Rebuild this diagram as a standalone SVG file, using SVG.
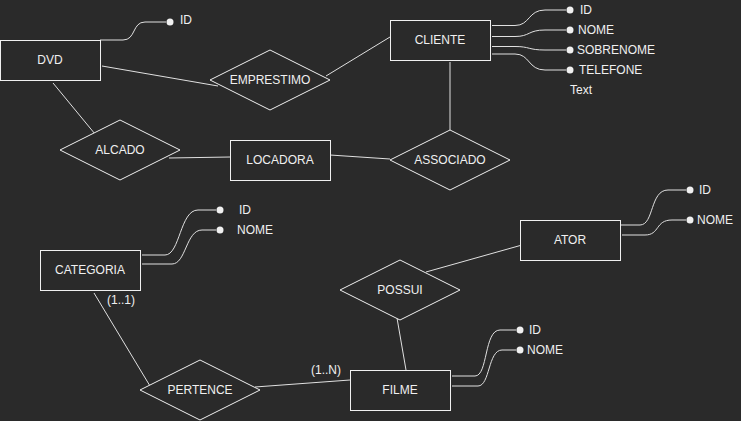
<svg xmlns="http://www.w3.org/2000/svg" width="741" height="421" viewBox="0 0 741 421">
<style>
.bg{fill:#2a2a2a}
.ent{fill:#2a2a2a;stroke:#f0f0f0;stroke-width:1}
.rel{fill:#2a2a2a;stroke:#f0f0f0;stroke-width:1}
.ln{fill:none;stroke:#e0e0e0;stroke-width:1}
.dot{fill:#f0f0f0}
text{font-family:"Liberation Sans",Arial,sans-serif;font-size:12px;fill:#f0f0f0}
.c{text-anchor:middle;dominant-baseline:central}
.l{text-anchor:start;dominant-baseline:central}
</style>
<rect class="bg" x="0" y="0" width="741" height="421"/>
<g id="connectors">
  <path class="ln" d="M102,66 L218,86"/>
  <path class="ln" d="M326,76 L390,37"/>
  <path class="ln" d="M53,83 L95,134"/>
  <path class="ln" d="M169,158 L230,157"/>
  <path class="ln" d="M330,155 L390,159"/>
  <path class="ln" d="M450,62 L450,130"/>
  <path class="ln" d="M426,272 L522,245"/>
  <path class="ln" d="M397,318 L406,370"/>
  <path class="ln" d="M94,293 L150,386"/>
  <path class="ln" d="M255,387 L350,380"/>
  <!-- attribute links -->
  <path class="ln" d="M100,40 L123,40 C136,40 132,22 145,22 L166,22"/>
  <path class="ln" d="M492,25.5 L515,25.5 C530,25.5 528,10 545,10 L566,10"/>
  <path class="ln" d="M492,36.5 L515,36.5 C530,36.5 528,30 545,30 L566,30"/>
  <path class="ln" d="M492,46.5 L515,46.5 C530,46.5 528,50 545,50 L566,50"/>
  <path class="ln" d="M492,54 L515,54 C530,54 528,70 545,70 L566,70"/>
  <path class="ln" d="M142,255 L165,255 C180,255 180,210 198,210 L216,210"/>
  <path class="ln" d="M142,264 L172,264 C186,264 186,230 202,230 L216,230"/>
  <path class="ln" d="M620,225 L640,225 C654,225 650,190 668,190 L686,190"/>
  <path class="ln" d="M622,235 L645,235 C660,235 655,220 672,220 L686,220"/>
  <path class="ln" d="M452,376 L475,376 C488,376 484,330 500,330 L516,330"/>
  <path class="ln" d="M452,386 L478,386 C490,386 488,350 502,350 L516,350"/>
  <circle class="dot" cx="170" cy="22" r="3.5"/>
  <circle class="dot" cx="570" cy="10" r="3.5"/>
  <circle class="dot" cx="570" cy="30" r="3.5"/>
  <circle class="dot" cx="570" cy="50" r="3.5"/>
  <circle class="dot" cx="570" cy="70" r="3.5"/>
  <circle class="dot" cx="220" cy="210" r="3.5"/>
  <circle class="dot" cx="220" cy="230" r="3.5"/>
  <circle class="dot" cx="690" cy="190" r="3.5"/>
  <circle class="dot" cx="690" cy="220" r="3.5"/>
  <circle class="dot" cx="520" cy="330" r="3.5"/>
  <circle class="dot" cx="520" cy="350" r="3.5"/>
</g>
<g id="dvd"><rect class="ent" x="0.5" y="40.5" width="100" height="40"/><text class="c" x="50" y="60">DVD</text></g>
<g id="dvd-id"><text class="l" x="180" y="20">ID</text></g>
<g id="emprestimo"><polygon class="rel" points="210,80 270,50 330,80 270,110"/><text class="c" x="270" y="80">EMPRESTIMO</text></g>
<g id="cliente"><rect class="ent" x="390.5" y="20.5" width="100" height="40"/><text class="c" x="440" y="40">CLIENTE</text></g>
<g id="cliente-attrs">
  <text class="l" x="580" y="10">ID</text>
  <text class="l" x="578" y="30">NOME</text>
  <text class="l" x="577" y="50">SOBRENOME</text>
  <text class="l" x="579" y="70">TELEFONE</text>
</g>
<g id="text-label"><text class="l" x="570" y="90">Text</text></g>
<g id="alcado"><polygon class="rel" points="60,150 120,120 180,150 120,180"/><text class="c" x="120" y="150">ALCADO</text></g>
<g id="locadora"><rect class="ent" x="230.5" y="140.5" width="100" height="40"/><text class="c" x="280" y="160">LOCADORA</text></g>
<g id="associado"><polygon class="rel" points="390,160 450,130 510,160 450,190"/><text class="c" x="450" y="160">ASSOCIADO</text></g>
<g id="categoria"><rect class="ent" x="40.5" y="250.5" width="100" height="40"/><text class="c" x="90" y="270">CATEGORIA</text></g>
<g id="categoria-attrs">
  <text class="c" x="245" y="210">ID</text>
  <text class="c" x="255" y="230">NOME</text>
</g>
<g id="ator"><rect class="ent" x="520.5" y="220.5" width="100" height="40"/><text class="c" x="570" y="240">ATOR</text></g>
<g id="ator-attrs">
  <text class="l" x="699" y="190">ID</text>
  <text class="l" x="697" y="220">NOME</text>
</g>
<g id="possui"><polygon class="rel" points="340,290 400,260 460,290 400,320"/><text class="c" x="400" y="290">POSSUI</text></g>
<g id="filme"><rect class="ent" x="350.5" y="370.5" width="100" height="40"/><text class="c" x="400" y="390">FILME</text></g>
<g id="filme-attrs">
  <text class="l" x="529" y="330">ID</text>
  <text class="l" x="527" y="350">NOME</text>
</g>
<g id="pertence"><polygon class="rel" points="140,390 200,360 260,390 200,420"/><text class="c" x="200" y="390">PERTENCE</text></g>
<g id="card-labels">
  <text class="c" x="121" y="300">(1..1)</text>
  <text class="c" x="326" y="370">(1..N)</text>
</g>
</svg>
